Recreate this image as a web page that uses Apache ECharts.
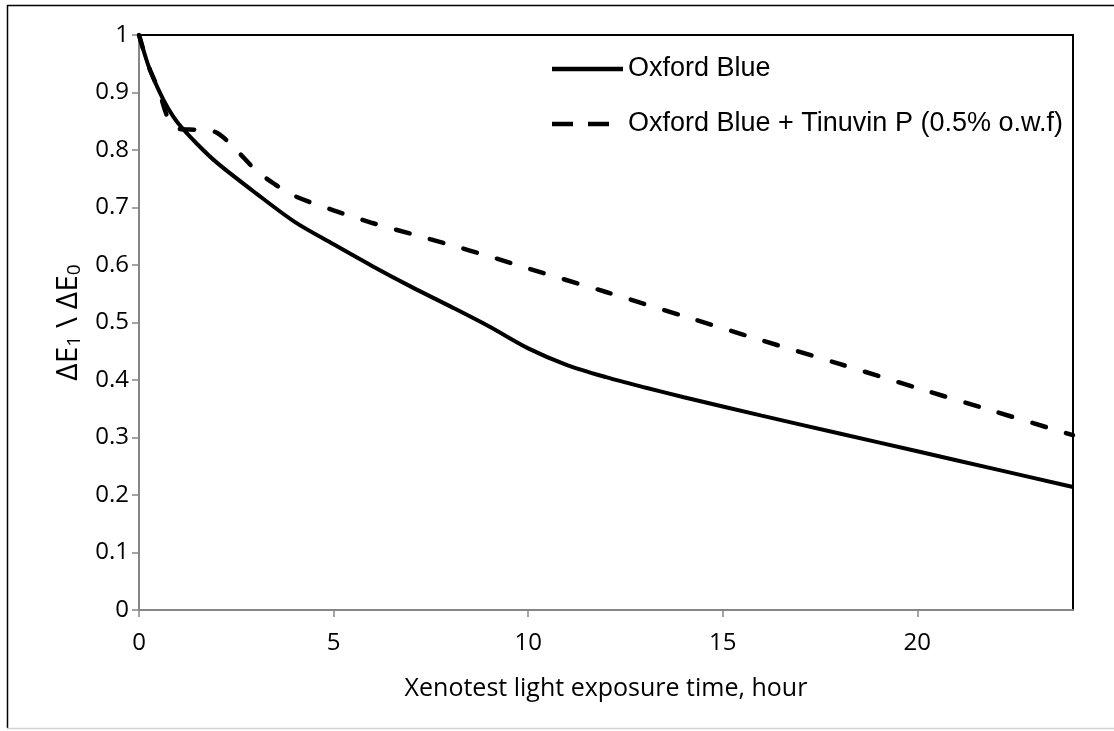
<!DOCTYPE html>
<html>
<head>
<meta charset="utf-8">
<script src="https://cdn.jsdelivr.net/npm/echarts@6/dist/echarts.min.js"></script>
<style>
html,body{margin:0;padding:0;background:#fff;}
#chart{width:1114px;height:731px;}
</style>
</head>
<body>
<div id="chart"></div>
<script>
// ---- data ----
const seriesNames = ['Oxford Blue', 'Oxford Blue + Tinuvin P (0.5% o.w.f)'];
const solidHours = [0, 0.25, 0.5, 0.75, 1, 1.5, 2, 3, 4, 5, 6, 7, 8, 9, 10, 11, 12, 13, 14, 16, 18, 20, 22, 24];
const solidValues = [1, 0.945, 0.905, 0.872, 0.847, 0.81, 0.778, 0.725, 0.675, 0.636, 0.598, 0.562, 0.528, 0.493, 0.455, 0.426, 0.405, 0.387, 0.37, 0.338, 0.307, 0.276, 0.245, 0.214];
const dashHours = [0, 0.25, 0.5, 0.75, 1, 1.5, 2, 2.5, 3, 3.5, 4, 5, 6, 7, 8, 9, 10, 12, 14, 16, 18, 20, 22, 24];
const dashValues = [1, 0.945, 0.905, 0.855, 0.837, 0.835, 0.83, 0.8, 0.765, 0.74, 0.72, 0.695, 0.673, 0.654, 0.635, 0.615, 0.594, 0.553, 0.511, 0.469, 0.428, 0.386, 0.345, 0.304];
const xTicks = [0, 5, 10, 15, 20];
const xTitle = 'Xenotest light exposure time, hour';

const pairs = (xs, ys) => xs.map((x, i) => [x, ys[i]]);

const chart = echarts.init(document.getElementById('chart'));
const tickFont = 'Open Sans';
chart.setOption({
  animation: false,
  backgroundColor: '#fff',
  grid: {
    left: 139, top: 35, right: 41, bottom: 121,
    show: true, borderColor: '#000', borderWidth: 2, backgroundColor: 'transparent'
  },
  legend: {
    orient: 'vertical',
    left: 552, top: 53,
    padding: 0,
    itemWidth: 71, itemHeight: 4.5,
    itemGap: 23,
    itemTextGap: 7,
    textStyle: { fontFamily: 'Liberation Sans', fontSize: 27, color: '#000', lineHeight: 32 },
    data: [
      { name: seriesNames[0], icon: 'path://M0 0H71V4.5H0Z' },
      { name: seriesNames[1], icon: 'path://M0 0H21V4.5H0Z M36 0H57V4.5H36Z M70.9 0H71V0.01H70.9Z' }
    ],
    itemStyle: { color: '#000', borderWidth: 0 }
  },
  xAxis: {
    type: 'value', min: 0, max: 24, interval: 5,
    name: xTitle, nameLocation: 'middle', nameGap: 66,
    nameTextStyle: { fontFamily: tickFont, fontSize: 25, color: '#000' },
    axisLine: { show: true, onZero: false, lineStyle: { color: '#868686', width: 2 } },
    axisTick: { show: true, inside: false, length: 7, customValues: xTicks, lineStyle: { color: '#868686', width: 1.5 } },
    axisLabel: { customValues: xTicks, margin: 21, fontFamily: tickFont, fontSize: 24, color: '#000' },
    splitLine: { show: false }
  },
  yAxis: {
    type: 'value', min: 0, max: 1, interval: 0.1,
    name: '{n|ΔE}{s|1}{n| \\ ΔE}{s|0}', nameLocation: 'middle', nameGap: 21,
    nameTextStyle: {
      rich: {
        n: { fontFamily: tickFont, fontSize: 30, color: '#000' },
        s: { fontFamily: tickFont, fontSize: 19, color: '#000', verticalAlign: 'bottom', padding: [13, 0, 0, 0] }
      }
    },
    axisLine: { show: true, lineStyle: { color: '#868686', width: 2 } },
    axisTick: { show: true, inside: false, length: 7, lineStyle: { color: '#868686', width: 1.5 } },
    axisLabel: { margin: 10, fontFamily: tickFont, fontSize: 24, color: '#000',
      formatter: v => String(Math.round(v * 10) / 10) },
    splitLine: { show: false }
  },
  series: [
    {
      name: seriesNames[0], type: 'line', data: pairs(solidHours, solidValues),
      smooth: 0.3, symbol: 'none', showSymbol: false,
      lineStyle: { color: '#000', width: 4, type: 'solid' }, itemStyle: { color: '#000' }
    },
    {
      name: seriesNames[1], type: 'line', data: pairs(dashHours, dashValues),
      smooth: 0.3, symbol: 'none', showSymbol: false,
      lineStyle: { color: '#000', width: 4.5, type: [14, 21], cap: 'round' }, itemStyle: { color: '#000' }
    }
  ],
  graphic: [
    { type: 'line', silent: true, shape: { x1: 7, y1: 5.5, x2: 1114, y2: 5.5 }, style: { stroke: '#000', lineWidth: 1.5 } },
    { type: 'line', silent: true, shape: { x1: 7.5, y1: 5, x2: 7.5, y2: 728 }, style: { stroke: '#000', lineWidth: 1.5 } },
    { type: 'line', silent: true, shape: { x1: 7, y1: 728.5, x2: 1114, y2: 728.5 }, style: { stroke: '#d4d4d4', lineWidth: 1.5 } }
  ]
});
</script>
</body>
</html>
